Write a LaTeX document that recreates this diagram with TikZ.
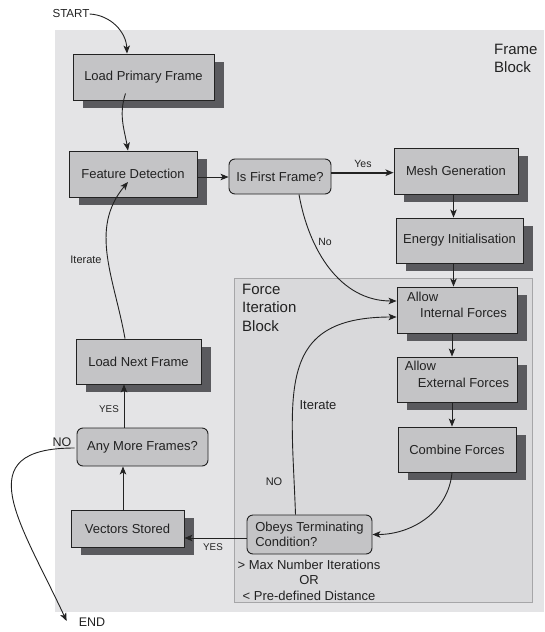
\documentclass[tikz,border=0pt]{standalone}
\usepackage{fontspec}
\setmainfont{Liberation Sans}
\usetikzlibrary{arrows.meta,shadows}
\definecolor{bgc}{HTML}{E4E4E6}
\definecolor{fibc}{HTML}{D9D9DB}
\definecolor{fibline}{HTML}{A6A6A8}
\definecolor{boxc}{HTML}{C4C4C6}
\definecolor{shadc}{HTML}{5A5A5E}
\definecolor{inkc}{HTML}{222222}
\tikzset{
  box/.style={draw=inkc, fill=boxc, line width=0.9pt, inner sep=0pt, text=inkc,
    font=\fontsize{13}{16.5}\selectfont,
    drop shadow={shadow xshift=9.5pt, shadow yshift=-8pt, fill=shadc, opacity=1}},
  rbox/.style={draw=inkc, fill=boxc, line width=0.9pt, rounded corners=6pt, inner sep=0pt,
    text=inkc, font=\fontsize{13}{15.5}\selectfont},
  arr/.style={draw=inkc, line width=0.9pt, -{Stealth[length=8pt,width=6.5pt,inset=2pt]}},
  lbl/.style={text=inkc, inner sep=0pt, font=\fontsize{10.5}{12}\selectfont},
  blk/.style={text=inkc, inner sep=0pt, align=left, anchor=north west,
    font=\fontsize{15}{18.5}\selectfont},
}
\begin{document}
\begin{tikzpicture}[x=1pt,y=1pt]
\useasboundingbox (0,0) rectangle (544,-632);
% backgrounds
\fill[bgc] (55,-30) rectangle (544,-612);
\filldraw[fill=fibc, draw=fibline, line width=1pt] (234,-278) rectangle (532,-602);
\node[blk] (fbl) at (494,-43.5) {Frame\\Block};
\node[blk] (fibl) at (242,-283.7) {Force\\Iteration\\Block};

% nodes
\node[box, minimum width=141pt, minimum height=46pt] (lpf) at (143.5,-77) {Load Primary Frame};
\node[box, minimum width=128pt, minimum height=46pt] (feat) at (133,-174) {Feature Detection};
\node[rbox, minimum width=102pt, minimum height=35pt] (first) at (280,-176.5) {Is First Frame?};
\node[box, minimum width=124pt, minimum height=46pt] (mesh) at (456,-171) {Mesh Generation};
\node[box, minimum width=127pt, minimum height=45pt] (energy) at (459.5,-240.5) {Energy Initialisation};
\node[box, minimum width=120pt, minimum height=46pt, align=left] (aint) at (457,-310) {Allow\\\hspace*{13pt}Internal Forces\\[-6pt]\mbox{}};
\node[box, minimum width=120pt, minimum height=45pt, align=left] (aext) at (457,-379.5) {Allow\\\hspace*{13pt}External Forces\\[-6pt]\mbox{}};
\node[box, minimum width=118pt, minimum height=45pt] (comb) at (457,-449.5) {Combine Forces};
\node[rbox, minimum width=125pt, minimum height=39pt, align=left] (obeys) at (309.5,-534.5) {Obeys Terminating\\Condition?};
\node[box, minimum width=113pt, minimum height=37pt] (vec) at (127.5,-528.5) {Vectors Stored};
\node[rbox, minimum width=131pt, minimum height=38pt] (any) at (142.5,-447) {Any More Frames?};
\node[box, minimum width=125pt, minimum height=45pt] (lnf) at (138.5,-361.5) {Load Next Frame};

\node[text=inkc, inner sep=0pt, align=center, font=\fontsize{13}{15.5}\selectfont] (cond) at (309,-580) {> Max Number Iterations\\OR\\< Pre-defined Distance};

\node[lbl, font=\fontsize{11.6}{13}\selectfont] (start) at (71,-14) {START};
\node[lbl, font=\fontsize{12.5}{14}\selectfont] (endn) at (92,-622) {END};

% labels
\node[lbl] (lyes) at (363,-164) {Yes};
\node[lbl] (lno) at (325,-242) {No};
\node[lbl, font=\fontsize{11}{12}\selectfont] (lit1) at (86,-260) {Iterate};
\node[lbl, font=\fontsize{13}{14}\selectfont] (lit2) at (318,-405) {Iterate};
\node[lbl, font=\fontsize{11}{12}\selectfont] (lno2) at (274,-482) {NO};
\node[lbl, font=\fontsize{9.8}{11}\selectfont] (lyes2) at (213,-547) {YES};
\node[lbl, font=\fontsize{9.8}{11}\selectfont] (lyes3) at (109,-409) {YES};
\node[lbl, font=\fontsize{12.5}{14}\selectfont] (lno3) at (62,-442) {NO};

% connectors
\draw[arr] (start.east) to[out=-3,in=92] ([xshift=-16.5pt]lpf.north);
\draw[arr] ([xshift=-18pt,yshift=7pt]lpf.south) to[out=-108,in=100] ([xshift=-5pt]feat.north);
\draw[arr] ([yshift=-3pt]feat.east) -- ([yshift=-0.5pt]first.west);
\draw[arr, line width=2.2pt] ([yshift=3.8pt]first.east) -- ([yshift=-1.7pt]mesh.west);
\draw[arr] ([xshift=-2.5pt]mesh.south) -- ([xshift=-6pt]energy.north);
\draw[arr] ([xshift=-6pt]energy.south) -- ([xshift=-3.5pt]aint.north);
\draw[arr] ([xshift=19pt]first.south) to[out=-80,in=180] ([yshift=9pt]aint.west);
\draw[arr] ([xshift=-14pt]obeys.north) to[out=92,in=180,looseness=1.4] ([yshift=-7pt]aint.west);
\draw[arr] ([xshift=-5pt]aint.south) -- ([xshift=-5pt]aext.north);
\draw[arr] ([xshift=-5pt]aext.south) -- ([xshift=-5pt]comb.north);
\draw[arr] ([xshift=-5pt]comb.south) to[out=-95,in=0] (obeys.east);
\draw[arr] ([yshift=-3.5pt]obeys.west) -- ([yshift=-9.5pt]vec.east);
\draw[arr] ([xshift=-4.5pt]vec.north) -- ([xshift=-19.5pt]any.south);
\draw[arr] ([xshift=-18.5pt]any.north) -- ([xshift=-14.5pt]lnf.south);
\draw[arr] ([xshift=-13.5pt]lnf.north) to[out=100,in=-130] ([xshift=-5pt,yshift=-8pt]feat.center);
\draw[arr] ([xshift=-2pt,yshift=-1pt]any.west) to[out=180,in=115,looseness=1.6] ([xshift=-12pt,yshift=1pt]endn.west);
\end{tikzpicture}
\end{document}
